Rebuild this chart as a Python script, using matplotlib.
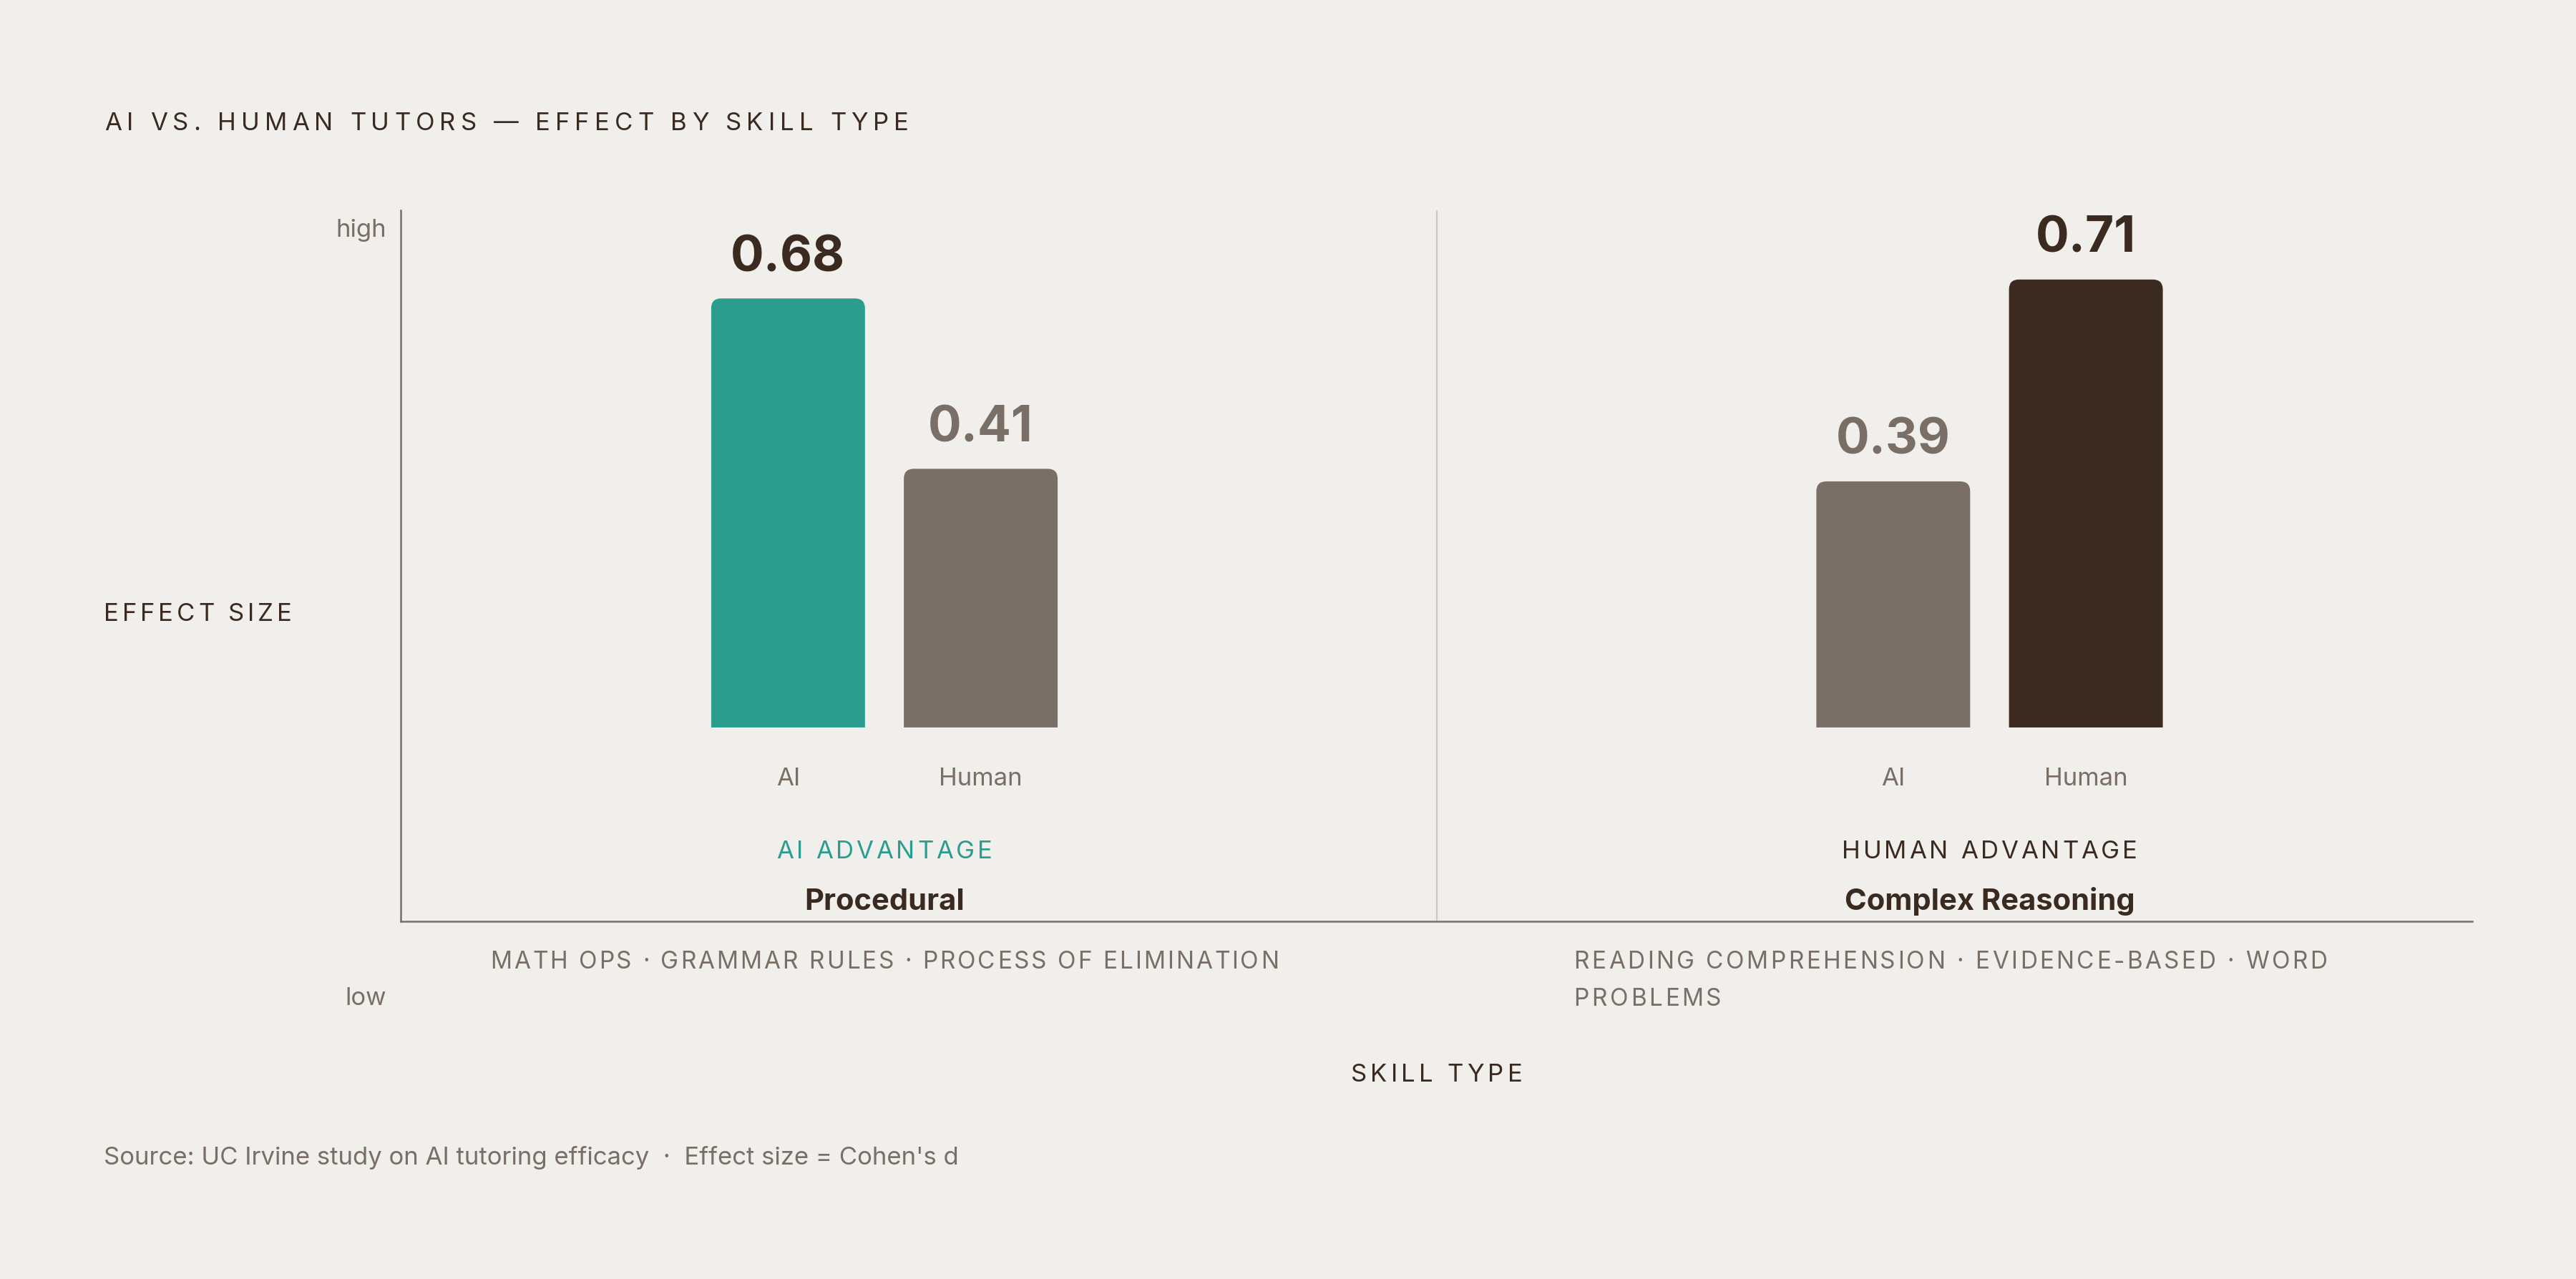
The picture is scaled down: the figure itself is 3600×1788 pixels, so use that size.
import matplotlib
matplotlib.use("Agg")
import matplotlib.pyplot as plt
from matplotlib.font_manager import FontProperties
from matplotlib.patches import PathPatch
from matplotlib.path import Path
from matplotlib.transforms import IdentityTransform

# --- data ---
skills = ["Procedural", "Complex Reasoning"]
advantage = ["AI ADVANTAGE", "HUMAN ADVANTAGE"]
examples = ["MATH OPS · GRAMMAR RULES · PROCESS OF ELIMINATION",
            "READING COMPREHENSION · EVIDENCE-BASED · WORD\nPROBLEMS"]
tutors = ["AI", "Human"]
ai_effect = [0.68, 0.39]
human_effect = [0.41, 0.71]

title = "AI VS. HUMAN TUTORS — EFFECT BY SKILL TYPE"
source = "Source: UC Irvine study on AI tutoring efficacy  ·  Effect size = Cohen's d"

# --- style ---
BG = "#f0efeb"
TEAL = "#2a9d8f"
GRAY = "#7a6f66"
DARK = "#3b2a20"
LIGHT = "#cfcac4"
FONT = ["Inter", "DejaVu Sans"]
DPI = 200
W, H = 3600, 1788

fig = plt.figure(figsize=(W / DPI, H / DPI), dpi=DPI, facecolor=BG)
ax = fig.add_axes([560 / W, 1 - 1288 / H, (3455 - 560) / W, (1288 - 294) / H])
ax.set_facecolor(BG)
ax.set_xlim(0, 2)
ax.set_ylim(-0.3073, 0.8197)
for side in ["top", "right"]:
    ax.spines[side].set_visible(False)
for side in ["left", "bottom"]:
    ax.spines[side].set_color(GRAY)
    ax.spines[side].set_linewidth(0.9)
ax.set_xticks([])
ax.set_yticks([])
ax.axvline(1, color=LIGHT, lw=0.8, zorder=0)

renderer = fig.canvas.get_renderer()
ID = IdentityTransform()


def pt(px):
    return px * 72 / DPI


def width_of(s, fp):
    return renderer.get_text_width_height_descent(s, fp, ismath=False)[0]


def spaced_text(x, y, s, size, color, span, ha="left", weight="normal"):
    # letter-spaced text spread over `span` pixels, x/y in output pixels (y from top)
    fp = FontProperties(family=FONT, size=size, weight=weight)
    bar = width_of("|", fp)
    offs = [width_of(s[:i] + "|", fp) - bar for i in range(len(s))]
    gap = max(0.0, (span - width_of(s, fp)) / (len(s) - 1))
    total = width_of(s, fp) + gap * (len(s) - 1)
    if ha == "center":
        x = x - total / 2
    for i, ch in enumerate(s):
        if ch != " ":
            fig.text(x + offs[i] + gap * i, H - y, ch, fontproperties=fp,
                     color=color, ha="left", va="baseline", transform=ID)


def plain_text(x, y, s, size, color, ha="left", weight="normal"):
    fig.text(x, H - y, s, fontsize=size, fontweight=weight, family=FONT,
             color=color, ha=ha, va="baseline", transform=ID)


def top_rounded_bar(cx, w, h, rx, ry, color):
    x0, x1 = cx - w / 2, cx + w / 2
    verts = [(x0, 0), (x0, h - ry), (x0, h), (x0 + rx, h), (x1 - rx, h),
             (x1, h), (x1, h - ry), (x1, 0), (x0, 0)]
    codes = [Path.MOVETO, Path.LINETO, Path.CURVE3, Path.CURVE3, Path.LINETO,
             Path.CURVE3, Path.CURVE3, Path.LINETO, Path.CLOSEPOLY]
    ax.add_patch(PathPatch(Path(verts, codes), fc=color, ec="none", lw=0))


group_x = [0.467, 1.534]
offset = 0.093
bar_w = 0.1485
rx, ry = 14 / 1447.5, 14 / 882

# spans of the letter-spaced labels (pixels)
adv_span = [301, 413]
ex_span = [[1102], [1053, 206]]

for g, gx in enumerate(group_x):
    vals = [ai_effect[g], human_effect[g]]
    win = 0 if vals[0] > vals[1] else 1
    win_color = TEAL if win == 0 else DARK
    for k, v in enumerate(vals):
        cx = gx + (k * 2 - 1) * offset
        top_rounded_bar(cx, bar_w, v, rx, ry, win_color if k == win else GRAY)
        ax.annotate(f"{v:.2f}", (cx, v), xytext=(0, pt(38)), textcoords="offset points",
                    ha="center", va="baseline", fontsize=25, fontweight="bold",
                    family=FONT, color=DARK if k == win else GRAY)
        ax.annotate(tutors[k], (cx, 0), xytext=(0, -pt(81)), textcoords="offset points",
                    ha="center", va="baseline", fontsize=12.5, family=FONT, color=GRAY,
                    annotation_clip=False)

    px_center = ax.transData.transform((gx, 0))[0]
    spaced_text(px_center, 1199.5, advantage[g], 12.5, win_color, adv_span[g], ha="center")
    plain_text(px_center, 1272, skills[g], 15, DARK, ha="center", weight="bold")
    lines = examples[g].split("\n")
    if len(lines) == 1:
        spaced_text(px_center, 1354.5, lines[0], 12, GRAY, ex_span[g][0], ha="center")
    else:
        for j, line in enumerate(lines):
            spaced_text(px_center - 581, 1354.5 + 51 * j, line, 12, GRAY, ex_span[g][j])

# titles and axis labels
spaced_text(146, 181.5, title, 12.5, DARK, 1124)
spaced_text(145, 868, "EFFECT SIZE", 12.5, DARK, 263)
spaced_text(2007.5, 1512, "SKILL TYPE", 12.5, DARK, 240, ha="center")
plain_text(540, 331, "high", 12.5, GRAY, ha="right")
plain_text(540, 1405, "low", 12.5, GRAY, ha="right")
plain_text(145, 1628, source, 12.5, GRAY)

fig.savefig("out.png", dpi=DPI, facecolor=BG)
